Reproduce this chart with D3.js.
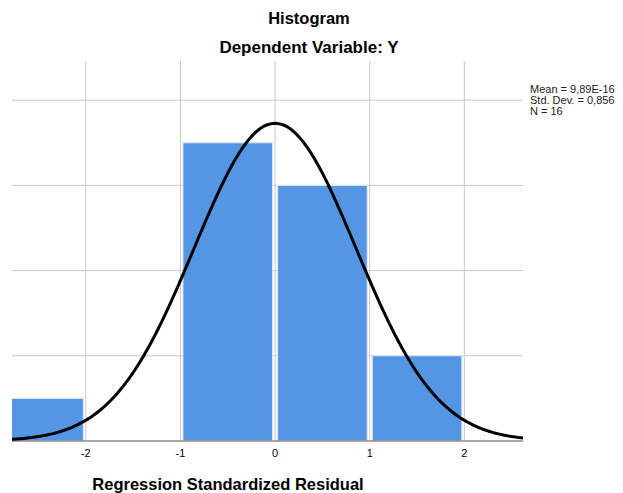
<!DOCTYPE html>
<html>
<head>
<meta charset="utf-8">
<script src="https://cdn.jsdelivr.net/npm/d3@7.9.0/dist/d3.min.js"></script>
<style>
  html, body { margin: 0; padding: 0; background: #fff; }
  svg { display: block; font-family: "Liberation Sans", Arial, sans-serif; }
</style>
</head>
<body>
<div id="chart"></div>
<script>
// Histogram of standardized residuals (bin edges + counts)
const binStarts = [-3, -2, -1, 0, 1];
const binCounts = [1, 0, 7, 6, 2];
const xTicks = [-2, -1, 0, 1, 2];
const yTicks = [0, 2, 4, 6, 8];
const stats = { mean: 9.89e-16, sd: 0.856, n: 16 };
const legendLines = ['Mean = 9,89E-16', 'Std. Dev. = 0,856', 'N = 16'];

const W = 623, H = 493;
const plot = { left: 12, right: 523, top: 61, bottom: 441 };

const svg = d3.select('#chart').append('svg')
    .attr('width', W).attr('height', H);

const x = d3.scaleLinear().domain([-2.78, 2.62]).range([plot.left, plot.right]);
const y = d3.scaleLinear().domain([0, 8.92]).range([plot.bottom, plot.top]);

svg.append('defs').append('clipPath').attr('id', 'clip')
    .append('rect')
    .attr('x', plot.left).attr('y', plot.top)
    .attr('width', plot.right - plot.left).attr('height', plot.bottom - plot.top);

// grid
svg.append('g').selectAll('line')
    .data(yTicks.filter(d => d > 0))
    .join('line')
    .attr('x1', plot.left).attr('x2', plot.right)
    .attr('y1', d => y(d)).attr('y2', d => y(d))
    .attr('stroke', '#c8c8c8').attr('stroke-width', 1);

svg.append('g').selectAll('line')
    .data(xTicks)
    .join('line')
    .attr('x1', d => x(d)).attr('x2', d => x(d))
    .attr('y1', plot.top).attr('y2', plot.bottom)
    .attr('stroke', '#c8c8c8').attr('stroke-width', 1);

// bars
const bins = binStarts.map((s, i) => ({ x0: s, x1: s + 1, count: binCounts[i] }))
    .filter(d => d.count > 0);

svg.append('g').attr('clip-path', 'url(#clip)')
    .selectAll('rect')
    .data(bins)
    .join('rect')
    .attr('x', d => x(d.x0) + 2.5)
    .attr('y', d => y(d.count))
    .attr('width', d => x(d.x1) - x(d.x0) - 5)
    .attr('height', d => y(0) - y(d.count))
    .attr('fill', '#5596e4')
    .attr('stroke', '#dde8f5')
    .attr('stroke-width', 1);

// x axis line
svg.append('line')
    .attr('x1', plot.left).attr('x2', plot.right)
    .attr('y1', plot.bottom).attr('y2', plot.bottom)
    .attr('stroke', '#8c8c8c').attr('stroke-width', 1.5);

// normal curve
const pdf = v => Math.exp(-0.5 * ((v - stats.mean) / stats.sd) ** 2) / (stats.sd * Math.sqrt(2 * Math.PI));
const curveX = d3.range(x.domain()[0], x.domain()[1] + 0.001, 0.02);
svg.append('path')
    .attr('clip-path', 'url(#clip)')
    .datum(curveX)
    .attr('d', d3.line().x(d => x(d)).y(d => y(stats.n * pdf(d))))
    .attr('fill', 'none')
    .attr('stroke', '#000')
    .attr('stroke-width', 3);

// tick labels
svg.append('g').selectAll('text')
    .data(xTicks)
    .join('text')
    .attr('x', d => x(d))
    .attr('y', 457)
    .attr('text-anchor', 'middle')
    .attr('font-size', '11px')
    .attr('fill', '#000')
    .text(d => d);

// titles
svg.append('text')
    .attr('x', 309).attr('y', 24)
    .attr('text-anchor', 'middle')
    .attr('font-size', '16.5px').attr('font-weight', 'bold')
    .text('Histogram');

svg.append('text')
    .attr('x', 309).attr('y', 53)
    .attr('text-anchor', 'middle')
    .attr('font-size', '17px').attr('font-weight', 'bold')
    .text('Dependent Variable: Y');

svg.append('text')
    .attr('x', 228).attr('y', 490)
    .attr('text-anchor', 'middle')
    .attr('font-size', '16.5px').attr('font-weight', 'bold')
    .text('Regression Standardized Residual');

// legend
svg.append('g').selectAll('text')
    .data(legendLines)
    .join('text')
    .attr('x', 530)
    .attr('y', (d, i) => 93 + i * 11)
    .attr('font-size', '11px')
    .attr('fill', '#222')
    .text(d => d);
</script>
</body>
</html>
